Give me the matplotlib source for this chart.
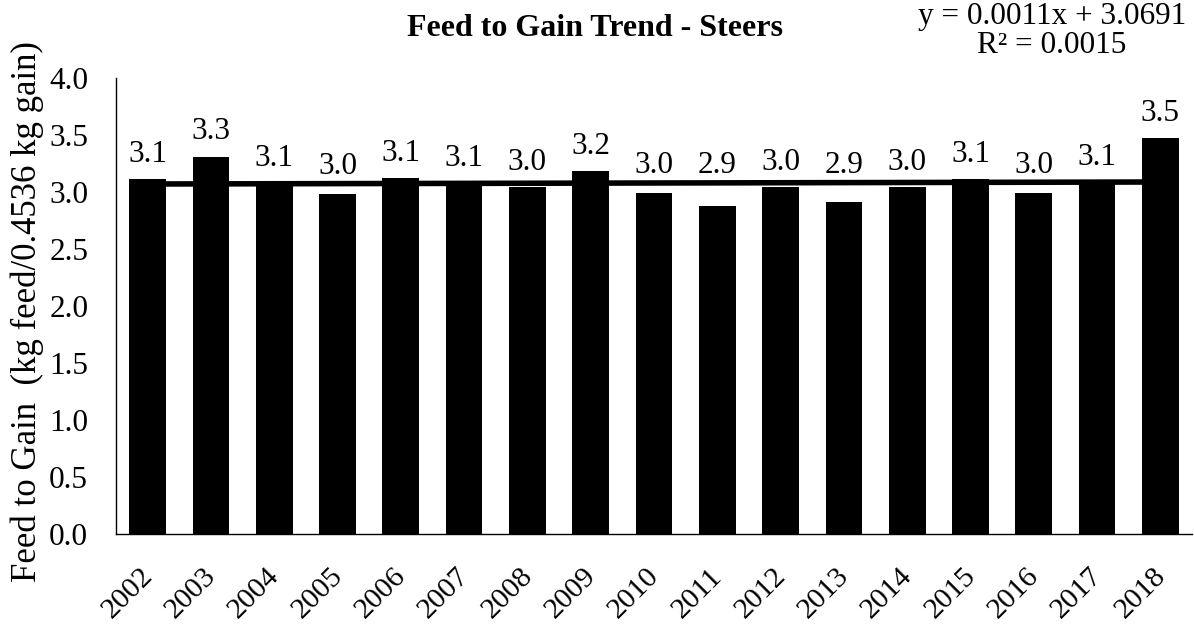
import matplotlib
matplotlib.use("Agg")
import matplotlib.pyplot as plt
import numpy as np
from matplotlib.transforms import ScaledTranslation

plt.rcParams["font.family"] = ["Liberation Serif", "DejaVu Serif"]

# ----- data -----
years = [str(y) for y in range(2002, 2019)]
feed_to_gain = [3.11, 3.31, 3.07, 2.98, 3.12, 3.07, 3.04, 3.18, 2.99,
                2.88, 3.04, 2.91, 3.04, 3.11, 2.99, 3.08, 3.47]
trend_slope = 0.0011
trend_intercept = 3.0691
trend_r2 = 0.0015
y_ticks = [0.0, 0.5, 1.0, 1.5, 2.0, 2.5, 3.0, 3.5, 4.0]

FS = 22.5


def main():
    fig = plt.figure(figsize=(11.94, 6.24), dpi=100)
    ax = fig.add_axes([116 / 1194, 90 / 624, 1076 / 1194, 456 / 624])

    x = np.arange(len(years))
    ax.bar(x, feed_to_gain, width=0.58, color="black", zorder=2)

    # Excel-style linear trendline (x = 1..n)
    trend = trend_slope * (x + 1) + trend_intercept
    ax.plot([x[0], x[-1]], [trend[0], trend[-1]],
            color="black", lw=4, zorder=3, solid_capstyle="butt")

    # value labels clear both the bar top and the trendline
    for xi, v, t in zip(x, feed_to_gain, trend):
        ax.text(xi, max(v + 0.22, t + 0.15), f"{v:.1f}",
                ha="center", va="center", fontsize=FS)

    ax.set_xlim(-0.5, len(years) - 0.5)
    ax.set_ylim(0, 4.0)
    ax.set_yticks(y_ticks)
    ax.set_yticklabels([f"{t:.1f}" for t in y_ticks], fontsize=FS)
    ax.set_xticks(x)
    ax.set_xticklabels(years, rotation=45, ha="right",
                       rotation_mode="anchor", fontsize=21.5)
    ax.tick_params(axis="both", length=0)
    ax.tick_params(axis="y", pad=20)
    ax.tick_params(axis="x", pad=21)
    shift = ScaledTranslation(-8 / 100, 0, fig.dpi_scale_trans)
    for lab in ax.get_xticklabels():
        lab.set_transform(lab.get_transform() + shift)

    for side in ("top", "right"):
        ax.spines[side].set_visible(False)
    ax.spines["left"].set_linewidth(1.0)
    ax.spines["bottom"].set_linewidth(1.0)

    ax.set_ylabel("Feed to Gain  (kg feed/0.4536 kg gain)", fontsize=25)
    ax.yaxis.set_label_coords(-72 / 1076, 0.488)

    fig.text(595 / 1194, 1 - 29 / 624, "Feed to Gain Trend - Steers",
             ha="center", va="center", fontsize=23, fontweight="bold")
    fig.text(1052 / 1194, 1 - 31 / 624,
             f"y = {trend_slope:.4f}x + {trend_intercept:.4f}\n"
             f"R\u00b2 = {trend_r2:.4f}",
             ha="center", va="center", fontsize=FS, linespacing=0.98)

    fig.savefig("out.png", dpi=100)


if __name__ == "__main__":
    main()
